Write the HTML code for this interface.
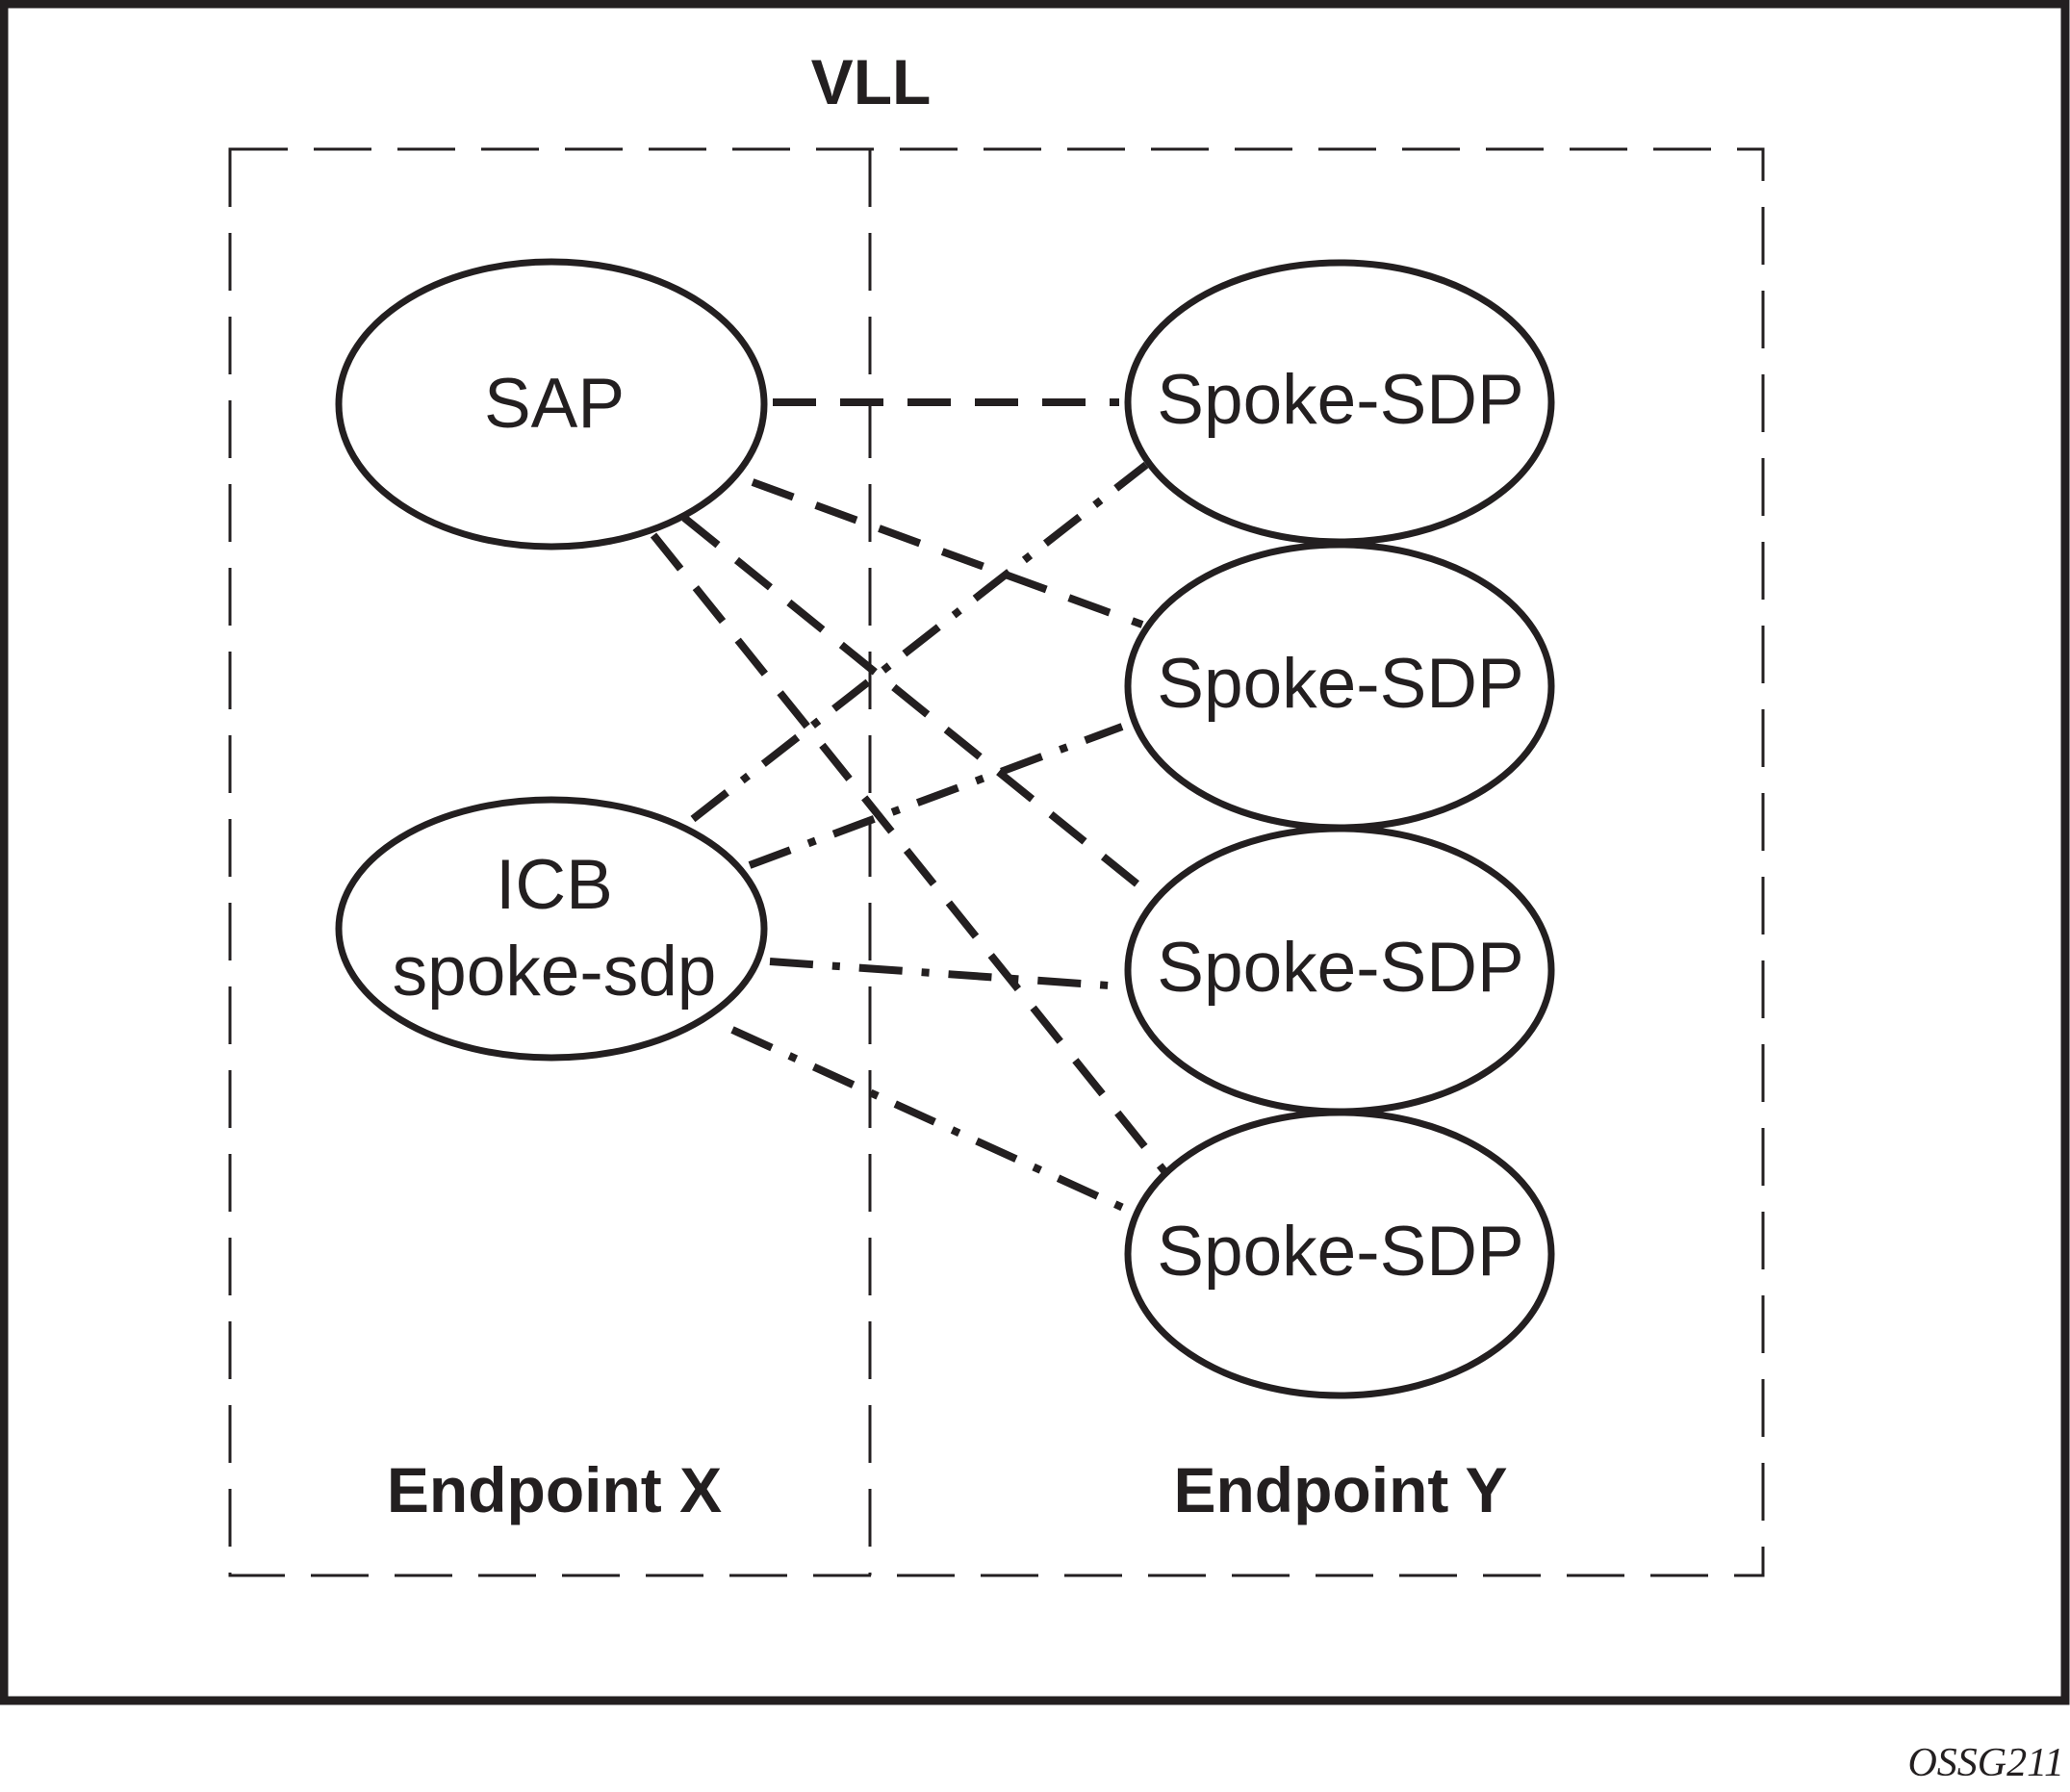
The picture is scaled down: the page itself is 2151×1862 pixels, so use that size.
<!DOCTYPE html>
<html><head><meta charset="utf-8"><style>
html,body{margin:0;padding:0;background:#fff;}
svg{display:block;}
</style></head><body>
<svg width="2151" height="1862" viewBox="0 0 2151 1862" xmlns="http://www.w3.org/2000/svg">
<rect x="4" y="4" width="2142" height="1763" fill="none" stroke="#231f20" stroke-width="9"/>
<g fill="none" stroke="#231f20" stroke-width="3" stroke-dasharray="60,27">
<rect x="239" y="155" width="1593" height="1482"/>
<line x1="904" y1="155" x2="904" y2="1637"/>
</g>
<g fill="none" stroke="#231f20" stroke-width="8" stroke-dasharray="45,25">
<line x1="803" y1="418" x2="1163" y2="418"/>
<line x1="782" y1="501" x2="1187" y2="649"/>
<line x1="711" y1="538" x2="1202" y2="935"/>
<line x1="679" y1="556" x2="1210" y2="1217"/>
</g>
<g fill="none" stroke="#231f20" stroke-width="8" stroke-dasharray="45,20,8,20">
<line x1="720" y1="851" x2="1191" y2="483"/>
<line x1="779" y1="899" x2="1166" y2="755"/>
<line x1="800" y1="999" x2="1166" y2="1025"/>
<line x1="761" y1="1070" x2="1176" y2="1259"/>
</g>
<g fill="#fff" stroke="#231f20" stroke-width="7">
<ellipse cx="573" cy="420" rx="221" ry="148"/>
<ellipse cx="573" cy="965" rx="221" ry="134"/>
<ellipse cx="1392" cy="418" rx="220" ry="145"/>
<ellipse cx="1392" cy="713" rx="220" ry="147"/>
<ellipse cx="1392" cy="1008" rx="220" ry="147"/>
<ellipse cx="1392" cy="1303" rx="220" ry="147"/>
</g>
<g font-family="Liberation Sans, Arial, sans-serif" fill="#231f20" text-anchor="middle" font-size="73">
<text x="576" y="444">SAP</text>
<text x="576" y="944">ICB</text>
<text x="576" y="1034">spoke-sdp</text>
<text x="1393" y="440">Spoke-SDP</text>
<text x="1393" y="735">Spoke-SDP</text>
<text x="1393" y="1030">Spoke-SDP</text>
<text x="1393" y="1325">Spoke-SDP</text>
</g>
<g font-family="Liberation Sans, Arial, sans-serif" fill="#231f20" text-anchor="middle" font-size="66" font-weight="bold">
<text x="905" y="108">VLL</text>
<text x="576" y="1571">Endpoint X</text>
<text x="1393" y="1571">Endpoint Y</text>
</g>
<text x="2145" y="1845" text-anchor="end" font-family="Liberation Serif, Times, serif" font-style="italic" font-size="42" fill="#231f20">OSSG211</text>
</svg>
</body></html>
